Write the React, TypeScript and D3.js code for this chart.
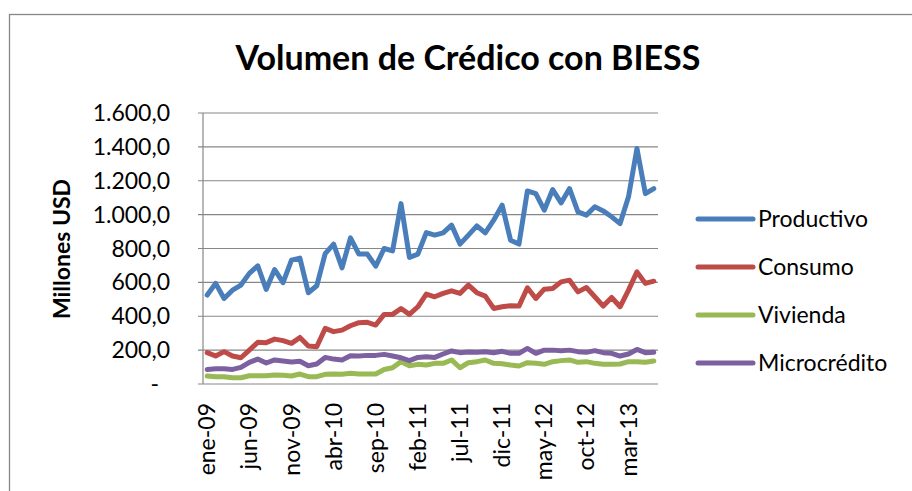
import { useEffect, useRef } from "react"
import * as d3 from "d3"

// monthly categories ene-09 .. jun-13
const monthNames = ["ene", "feb", "mar", "abr", "may", "jun", "jul", "ago", "sep", "oct", "nov", "dic"]
const years = ["09", "10", "11", "12", "13"]
const categories: string[] = years
  .flatMap(y => monthNames.map(m => `${m}-${y}`))
  .slice(0, 54)

const seriesNames = ["Productivo", "Consumo", "Vivienda", "Microcrédito"]
const colors = ["#4A7EBB", "#BE4B48", "#98B954", "#7D60A0"]

const productivo = [
  525, 594, 505, 554, 584, 653, 698, 558, 676, 598, 731, 743, 539, 580, 770, 826, 686, 863,
  767, 767, 696, 800, 786, 1065, 747, 767, 894, 879, 892, 938, 826, 879, 934, 892, 967, 1056,
  849, 826, 1140, 1124, 1026, 1148, 1069, 1154, 1016, 997, 1046, 1022, 987, 947, 1105, 1390, 1124, 1154,
]
const consumo = [
  185, 165, 191, 165, 155, 200, 246, 244, 265, 256, 240, 275, 224, 220, 328, 309, 318, 344,
  362, 364, 348, 411, 411, 446, 411, 456, 531, 515, 535, 550, 535, 584, 539, 519, 446, 456,
  462, 460, 568, 505, 560, 564, 603, 613, 544, 570, 515, 460, 511, 456, 554, 662, 594, 607,
]
const vivienda = [
  47, 43, 43, 37, 37, 49, 49, 49, 53, 51, 47, 59, 43, 43, 57, 59, 57, 63,
  59, 59, 59, 86, 96, 132, 108, 116, 112, 122, 122, 142, 96, 126, 132, 142, 122, 120,
  112, 106, 126, 122, 116, 132, 138, 142, 128, 132, 122, 116, 116, 118, 132, 132, 128, 136,
]
const microcredito = [
  86, 90, 90, 86, 98, 128, 147, 124, 142, 136, 130, 134, 108, 118, 157, 147, 142, 167,
  165, 169, 169, 175, 165, 155, 138, 157, 161, 157, 177, 195, 185, 189, 187, 191, 185, 193,
  181, 181, 210, 181, 200, 200, 197, 200, 191, 187, 197, 185, 181, 165, 177, 204, 185, 187,
]
const series = [productivo, consumo, vivienda, microcredito]

const yTicks = [0, 200, 400, 600, 800, 1000, 1200, 1400, 1600]

const W = 912
const H = 491
const plot = { left: 203, right: 658, top: 113, bottom: 384 }
const font = "Lato, 'Open Sans', sans-serif"
const grey = "#878787"

const locale = d3.formatLocale({ decimal: ",", thousands: ".", grouping: [3], currency: ["", ""] })
const fmt = locale.format(",.1f")

const App = () => {
  const ref = useRef<SVGSVGElement>(null)

  useEffect(() => {
    const svg = d3.select(ref.current)
    svg.selectAll("*").remove()

    const x = d3.scaleBand().domain(categories).range([plot.left, plot.right])
    const cx = (c: string) => (x(c) as number) + x.bandwidth() / 2
    const y = d3.scaleLinear().domain([0, 1600]).range([plot.bottom, plot.top])

    // chart area border
    svg.append("rect")
      .attr("x", 9.5).attr("y", 14.5)
      .attr("width", 1000).attr("height", 1000)
      .attr("fill", "white")
      .attr("stroke", grey)
      .attr("stroke-width", 1.3)

    svg.append("text")
      .attr("x", 468).attr("y", 70)
      .attr("text-anchor", "middle")
      .attr("font-family", font)
      .attr("font-weight", "bold")
      .attr("font-size", 34)
      .text("Volumen de Crédico con BIESS")

    // gridlines
    svg.append("g")
      .selectAll("line")
      .data(yTicks)
      .join("line")
      .attr("x1", plot.left - 5).attr("x2", plot.right)
      .attr("y1", d => y(d)).attr("y2", d => y(d))
      .attr("stroke", grey)
      .attr("stroke-width", 1.2)

    svg.append("line")
      .attr("x1", plot.left).attr("x2", plot.left)
      .attr("y1", plot.top).attr("y2", plot.bottom)
      .attr("stroke", grey)
      .attr("stroke-width", 1.2)

    // y tick labels
    svg.append("g")
      .selectAll("text")
      .data(yTicks)
      .join("text")
      .attr("x", d => (d === 0 ? 159 : 170))
      .attr("y", d => y(d))
      .attr("dy", "0.35em")
      .attr("text-anchor", "end")
      .attr("font-family", font)
      .attr("font-size", 23)
      .text(d => (d === 0 ? "-" : fmt(d)))

    svg.append("text")
      .attr("transform", `translate(70, 249) rotate(-90)`)
      .attr("text-anchor", "middle")
      .attr("font-family", font)
      .attr("font-weight", "bold")
      .attr("font-size", 23)
      .text("Millones USD")

    // x tick labels, every 5 months
    svg.append("g")
      .selectAll("text")
      .data(categories.filter((_, i) => i % 5 === 0))
      .join("text")
      .attr("transform", d => `translate(${cx(d)}, 403) rotate(-90)`)
      .attr("dy", "0.35em")
      .attr("text-anchor", "end")
      .attr("font-family", font)
      .attr("font-size", 23)
      .text(d => d)

    const line = d3.line<number>()
      .x((_, i) => cx(categories[i]))
      .y(d => y(d))

    svg.append("g")
      .selectAll("path")
      .data(series)
      .join("path")
      .attr("d", d => line(d))
      .attr("fill", "none")
      .attr("stroke", (_, i) => colors[i])
      .attr("stroke-width", 5)
      .attr("stroke-linejoin", "round")
      .attr("stroke-linecap", "round")

    // legend
    const legend = svg.append("g")
      .selectAll("g")
      .data(seriesNames)
      .join("g")
      .attr("transform", (_, i) => `translate(698, ${219 + i * 48})`)

    legend.append("line")
      .attr("x1", 0).attr("x2", 55)
      .attr("stroke", (_, i) => colors[i])
      .attr("stroke-width", 5)
      .attr("stroke-linecap", "round")

    legend.append("text")
      .attr("x", 60)
      .attr("dy", "0.35em")
      .attr("font-family", font)
      .attr("font-size", 23)
      .text(d => d)
  }, [])

  return (
    <svg ref={ref} width={W} height={H} style={{ position: "absolute", left: 0, top: 0 }} />
  )
}

export default App
